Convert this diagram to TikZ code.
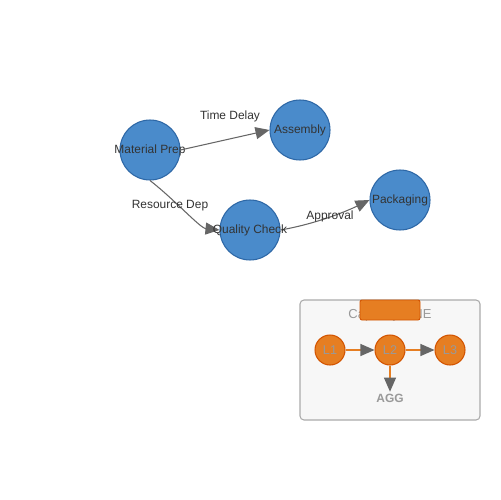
\documentclass[tikz,border=0pt]{standalone}
\usepackage{fontspec}
\setmainfont{Liberation Sans}
\usetikzlibrary{arrows.meta}
\definecolor{nodeblue}{HTML}{4A8BCB}
\definecolor{nodeedge}{HTML}{2D67A6}
\definecolor{txt}{HTML}{333333}
\definecolor{edgegray}{HTML}{666666}
\definecolor{orfill}{HTML}{E67E22}
\definecolor{oredge}{HTML}{D35400}
\definecolor{lgray}{HTML}{999999}
\tikzset{
  bignode/.style={circle, minimum size=1.2cm, inner sep=0pt, fill=nodeblue, draw=nodeedge, line width=0.6pt, text=txt, font=\fontsize{6.8}{8}\selectfont},
  smallnode/.style={circle, minimum size=0.6cm, inner sep=0pt, fill=orfill, draw=oredge, line width=0.6pt, text=lgray, font=\fontsize{7.2}{8}\selectfont},
  conn/.style={draw=edgegray, line width=0.6pt, -{Triangle[length=0.28cm, width=0.24cm]}, fill=none},
  oconn/.style={draw=orfill, line width=0.6pt, -{Triangle[length=0.28cm, width=0.24cm, color=edgegray, fill=edgegray]}},
  elabel/.style={text=txt, font=\fontsize{6.8}{8}\selectfont, inner sep=1pt},
}
\newcommand{\zw}[1]{\makebox[0pt]{#1}}
\begin{document}
\begin{tikzpicture}[x=0.02cm, y=-0.02cm]
\useasboundingbox (0,0) rectangle (500,500);
\fill[white] (0,0) rectangle (500,500);
% cluster
\draw[rounded corners=0.08cm, fill=black!3, draw=black!33, line width=0.6pt] (300,300) rectangle (480,420);
\node[text=lgray, font=\fontsize{7.4}{8}\selectfont] (ctitle) at (390,315) {Capacity LINE};
\draw[rounded corners=0.04cm, fill=orfill, draw=oredge, line width=0.5pt] (360,300) rectangle (420,320);
\node[smallnode] (l1) at (330,350) {L1};
\node[smallnode] (l2) at (390,350) {L2};
\node[smallnode] (l3) at (450,350) {L3};
\node[text=lgray, font=\bfseries\fontsize{6.8}{8}\selectfont, inner sep=1pt] (agg) at (390,398) {AGG};
\draw[oconn] (l1) -- (l2);
\draw[oconn] (l2) -- (l3);
\draw[oconn] (l2) -- (agg);
% main nodes
\node[bignode] (mp) at (150,150) {\zw{Material Prep}};
\node[bignode] (as) at (300,130) {\zw{Assembly}};
\node[bignode] (qc) at (250,230) {};
\node[bignode] (pk) at (400,200) {\zw{Packaging}};
% main edges
\draw[conn] (mp.south) .. controls (175,200) and (200,228) .. (qc.west);
\draw[conn] (mp.east) -- (as.west);
\draw[conn] (qc.east) .. controls (315,224) and (345,212) .. (pk.west);
\node[elabel, text=txt, font=\fontsize{6.8}{8}\selectfont] (qct) at (qc.center) {\zw{Quality Check}};
\node[elabel] (l_td) at (230,116) {Time Delay};
\node[elabel] (l_rd) at (170,206) {Resource Dep};
\node[elabel] (l_ap) at (330,216) {Approval};
\end{tikzpicture}
\end{document}
